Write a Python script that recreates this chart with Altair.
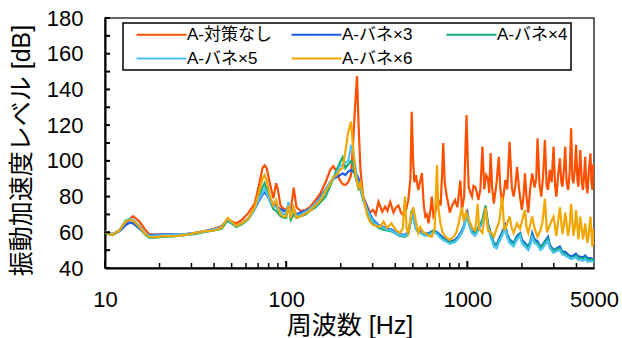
import altair as alt
import pandas as pd

FONT = "Liberation Sans, Noto Sans CJK JP"

series_names = ["A-対策なし", "A-バネ×3", "A-バネ×4", "A-バネ×5", "A-バネ×6"]
series_colors = ["#FF5000", "#1A5CF0", "#12AD78", "#4CC3F7", "#F2A600"]

# shared low-frequency grid (Hz)
freq_low = [10, 11, 12, 13, 13.7, 14.3, 15.5, 16.5, 17.5, 19,
            21, 23, 25, 28, 31, 35, 40, 44, 47.5, 50,
            53, 57, 62, 67, 71, 74, 76, 78, 81, 85,
            88, 90, 93, 97, 100, 103, 106, 110, 114, 120,
            128, 135, 145, 155, 165, 175, 182, 190, 198, 205,
            212, 220, 228, 234, 240, 246, 251]

orange_low = [60.5, 59, 61, 65, 67.5, 69, 66, 62, 59, 58.5,
              59, 59, 59, 59, 59.5, 60.5, 62, 63.5, 67, 66,
              65, 67, 71, 76, 87, 96, 97.5, 96, 88, 79,
              87.5, 84, 75, 73, 73, 74, 72, 85, 74, 72,
              72.5, 74, 78, 82, 88, 95, 97, 94, 89, 87,
              86.5, 88, 92, 110, 130, 147.5, 120]
blue_low = [60, 58.5, 60.5, 64, 65.5, 65, 62, 59.5, 58.5, 58.5,
            58.8, 58.8, 58.8, 59, 59.5, 60.5, 61.5, 63, 67, 65.5,
            63.5, 65, 68, 73, 78, 81, 82.5, 81, 78, 76,
            75, 74, 73, 72, 72, 74, 71, 73, 70, 71,
            72, 73, 76, 80, 84, 88, 90, 91, 92, 93,
            92, 94, 95, 94, 93, 92, 90]
green_low = [59.5, 58.5, 61, 66.5, 67.5, 66.5, 63, 59, 57, 57,
             57.5, 57.5, 58, 58.5, 59, 60, 61, 62, 66.5, 65,
             63, 64.5, 67.5, 73, 80, 85, 87.5, 84, 78, 73,
             72, 71, 69, 68, 68, 76, 67, 70, 68, 69,
             70, 72, 74, 77, 80, 86, 90, 95, 99, 102,
             96, 98, 100, 98, 92, 88, 84]
cyan_low = [60.5, 59, 61, 66, 67.5, 67, 63.5, 60, 58, 58,
            58.5, 58.5, 58.8, 59, 59.5, 60.5, 61.5, 63, 67.5, 65.5,
            63.5, 65, 68, 73, 79, 82, 84, 82, 78, 75,
            74, 73, 72, 70, 71, 77, 70, 73, 69, 70,
            71.5, 73, 76, 79, 84, 88, 90, 93, 97, 98,
            99, 100, 108, 106, 98, 90, 86]
yellow_low = [60, 58.5, 61, 66, 67, 66.5, 63, 59.5, 57.5, 57.3,
              57.8, 57.8, 58, 58.5, 59.5, 60.5, 61, 62.5, 68, 66,
              63.5, 65, 68, 74, 83, 90, 92, 89, 81, 75,
              78, 74, 70, 68.5, 69, 75, 68, 74, 68, 69,
              70.5, 72, 75, 78, 83, 87, 91, 92, 95, 96,
              105, 116, 122, 108, 94, 88, 85]

# high-frequency parts
orange_hi_freq = [257, 266, 279, 290, 302, 312, 323, 339, 352, 362,
                  375, 391, 405, 417, 430, 443, 460, 472, 485, 493,
                  502, 510, 520, 536, 561, 575, 586, 600, 610, 625,
                  636, 650, 670, 691, 712, 727, 736, 750, 770, 785,
                  800, 825, 855, 880, 915, 933, 960, 978, 990, 1005,
                  1017, 1040, 1060, 1080, 1104, 1130, 1150, 1180, 1211, 1240,
                  1270, 1300, 1320, 1344, 1370, 1400, 1450, 1490, 1520, 1555,
                  1590, 1620, 1660, 1710, 1760, 1800, 1840, 1880, 1940, 2000,
                  2040, 2080, 2120, 2170, 2220, 2280, 2350, 2400, 2440, 2500,
                  2560, 2620, 2680, 2740, 2790, 2850, 2920, 2990, 3050, 3100,
                  3170, 3240, 3300, 3350, 3410, 3470, 3530, 3600, 3670, 3740,
                  3800, 3850, 3920, 3980, 4050, 4100, 4150, 4200, 4280, 4350,
                  4410, 4470, 4540, 4600, 4690, 4780, 4840, 4900, 4950, 5000]
orange_hi = [95, 80, 75, 71, 72.5, 70, 77, 71.5, 74.4, 72,
             77, 71, 74, 75, 71, 69.7, 73, 78, 90, 127.5,
             100, 88, 92, 83.7, 93, 75, 68.8, 70, 65, 72,
             80, 69, 72, 78, 75, 95, 110, 88, 80, 76,
             71, 75, 78, 74, 89, 72.5, 80, 110, 125.7, 100,
             85.5, 82, 80, 86, 85.5, 82, 78, 84, 108, 84,
             92, 90, 82, 104.4, 85, 76, 88, 102.3, 85, 76,
             82, 89.3, 84, 110.7, 85, 80, 86, 96.7, 82, 72.5,
             80, 93, 80, 71, 84, 93, 85, 90, 112.6, 87,
             80, 92, 111.7, 86, 83.7, 95, 88, 108, 86, 80,
             92, 101.4, 88, 85.5, 95, 108, 88, 83.7, 93, 118.2,
             90, 87.4, 95, 109, 89, 85.5, 96, 106, 88, 83.7,
             92, 102.3, 86, 81.8, 95, 104.2, 88, 83.7, 98, 92]

yellow_hi_freq = [257, 266, 279, 290, 302, 315, 330, 345, 360, 381,
                  405, 424, 440, 452, 462, 472, 490, 503, 520, 536,
                  550, 570, 586, 610, 636, 660, 672, 680, 690, 710,
                  730, 755, 800, 840, 870, 895, 933, 955, 985, 1010,
                  1039, 1070, 1104, 1125, 1140, 1160, 1211, 1260, 1300, 1350,
                  1400, 1450, 1500, 1555, 1600, 1650, 1710, 1760, 1800, 1880,
                  1950, 2000, 2080, 2120, 2170, 2220, 2280, 2350, 2440, 2530,
                  2600, 2680, 2750, 2850, 2990, 3100, 3170, 3240, 3350, 3410,
                  3470, 3600, 3670, 3740, 3850, 3920, 3980, 4100, 4150, 4200,
                  4350, 4410, 4470, 4600, 4690, 4780, 4900, 4950, 5000]
yellow_hi = [88, 80, 70, 66, 64, 63.5, 63, 66, 62.4, 65,
             61, 59.6, 62, 80, 62, 59.6, 70, 74, 66, 59.6,
             63, 60, 59.6, 58, 57.5, 62, 85, 97.7, 75, 65,
             60, 57.5, 55.7, 57.5, 60, 65, 74, 66, 71.5, 68,
             65, 62, 61, 68, 76, 62, 59.6, 74, 61, 60,
             57.5, 62, 66, 80, 61, 64, 68.8, 62, 59.6, 65,
             62, 66, 72.5, 63, 59.6, 64, 68.8, 62, 57.5, 61,
             66, 78.7, 60, 64, 68.8, 58, 66, 74, 59, 64,
             71, 58, 64, 76, 58, 63, 72.5, 56, 62, 68.8,
             56, 60, 65, 54, 60, 68.8, 52, 62, 53]

bgc_hi_freq = [257, 266, 279, 290, 302, 323, 345, 360, 381, 405,
               424, 452, 472, 485, 493, 505, 520, 536, 561, 586,
               610, 650, 680, 700, 725, 770, 800, 855, 895, 933,
               960, 985, 1000, 1020, 1040, 1060, 1104, 1150, 1211, 1260,
               1300, 1344, 1400, 1450, 1490, 1555, 1620, 1660, 1710, 1800,
               1880, 1960, 2000, 2080, 2170, 2230, 2280, 2350, 2440, 2530,
               2600, 2680, 2790, 2850, 2990, 3100, 3240, 3350, 3470, 3600,
               3740, 3850, 3980, 4100, 4200, 4350, 4470, 4600, 4780, 4900,
               5000]
blue_hi = [86, 80, 74, 70, 67, 64, 63, 62, 61.5, 60,
           59, 58.5, 60, 66, 71.5, 68, 63, 61, 60, 59,
           59.5, 61, 60, 59, 57.5, 55.5, 54.8, 55.7, 58, 61,
           64, 70, 71.5, 66, 63, 61, 59.6, 62, 66, 73.6,
           65, 59.6, 54, 53, 56, 60, 64, 59, 56, 54,
           58, 59.6, 56, 54, 52, 55, 59.6, 56, 55, 52,
           53, 55, 57.5, 53, 50, 51, 52, 49, 49, 47.5,
           46.4, 47, 48, 46.5, 46.4, 46, 47, 45.5, 45.5, 45,
           45]
green_hi = [84, 78, 72, 68, 65.5, 62.5, 61.5, 61, 60.5, 59,
            58, 57.5, 59, 65, 72, 67, 62, 60, 59.5, 58.5,
            59, 61, 59.5, 58, 56.5, 55, 54.5, 55, 57, 60,
            63, 68, 69, 65, 62, 60, 59, 63, 67, 75,
            64, 58.5, 53.5, 52.5, 55, 59, 63, 58, 55, 53.5,
            57, 59, 55, 53, 51.5, 54, 58, 55, 54, 51.5,
            52.5, 54.5, 56.5, 52, 49.5, 50.5, 51, 48.5, 48, 46.5,
            45.5, 46, 47, 45.5, 45.5, 45, 46, 44.5, 45, 44.5,
            44.5]
cyan_hi = [85, 79, 73, 69, 66, 63.5, 62.5, 61.5, 61, 59.5,
           58.5, 58, 59.5, 66, 72.5, 67.5, 62.5, 60.5, 59, 58,
           58.5, 60, 59, 57.5, 56, 54.5, 53.5, 54.5, 57, 60,
           63, 68.5, 69.5, 65, 62, 59.5, 58, 61, 65, 71,
           63, 57.5, 52, 51, 54, 58, 62, 57, 54, 52,
           56, 58, 54, 52, 50, 53, 57, 54, 53, 50,
           51, 53, 55, 51, 48.5, 49.5, 50, 47.5, 47, 46,
           45, 45.5, 46, 44.5, 44.5, 44, 45, 43.5, 44, 43.5,
           43.5]

y_label_values = [40, 60, 80, 100, 120, 140, 160, 180]
y_tick_values = [40, 50, 60, 70, 80, 90, 100, 110, 120, 130, 140, 150, 160, 170, 180]
x_label_values = [10, 100, 1000, 5000]
x_major_ticks = [10, 100, 1000]
x_minor_ticks = [20, 30, 40, 50, 60, 70, 80, 90, 200, 300, 400, 500, 600, 700, 800, 900, 2000, 3000, 4000]

parts = [
    (series_names[0], freq_low + orange_hi_freq, orange_low + orange_hi),
    (series_names[1], freq_low + bgc_hi_freq, blue_low + blue_hi),
    (series_names[2], freq_low + bgc_hi_freq, green_low + green_hi),
    (series_names[3], freq_low + bgc_hi_freq, cyan_low + cyan_hi),
    (series_names[4], freq_low + yellow_hi_freq, yellow_low + yellow_hi),
]
rows = []
for name, fr, vals in parts:
    for f, v in zip(fr, vals):
        rows.append({"series": name, "freq": f, "db": v})
df = pd.DataFrame(rows)

W, H = 489, 250
xscale = alt.Scale(type="log", domain=[10, 5000], nice=False)
yscale = alt.Scale(domain=[40, 180], nice=False)

xaxis = alt.Axis(values=x_label_values, format="d", title="周波数 [Hz]",
                 labelFontSize=22, labelPadding=21, ticks=False, tickSize=0,
                 labelFlush=False, labelOverlap=False, grid=False,
                 domainColor="black", domainWidth=2, labelColor="black",
                 titleFontSize=25, titleFontWeight="normal", titleColor="black",
                 titleY=57, titleBaseline="middle")
yaxis = alt.Axis(values=y_label_values, title="振動加速度レベル [dB]",
                 labelFontSize=22, labelPadding=22, ticks=False, tickSize=0,
                 grid=False, domainColor="black", domainWidth=2, labelColor="black",
                 titleFontSize=25, titleFontWeight="normal", titleColor="black",
                 titleX=-84, titleY=132, titleBaseline="middle", titleAngle=270)

lines = alt.Chart(df).mark_line(strokeWidth=2.2, clip=True).encode(
    x=alt.X("freq:Q", scale=xscale, axis=xaxis),
    y=alt.Y("db:Q", scale=yscale, axis=yaxis),
    color=alt.Color("series:N",
                    scale=alt.Scale(domain=series_names, range=series_colors),
                    legend=alt.Legend(title=None, orient="none", legendX=18, legendY=5,
                                      columns=3, direction="horizontal", gridAlign="all",
                                      symbolType="M-5,0H5", symbolSize=100,
                                      symbolStrokeWidth=2, symbolOffset=27,
                                      labelFontSize=17, labelOffset=17,
                                      columnPadding=9, rowPadding=6,
                                      padding=3, strokeColor="black", fillColor="white",
                                      labelColor="black")),
    order=alt.Order("freq:Q"),
)

ytick_df = pd.DataFrame({"db": y_tick_values})
yticks = alt.Chart(ytick_df).mark_rule(color="black", strokeWidth=2).encode(
    y=alt.Y("db:Q", scale=yscale, axis=yaxis), x=alt.value(0), x2=alt.value(5))

xmaj_df = pd.DataFrame({"freq": x_major_ticks})
xmaj = alt.Chart(xmaj_df).mark_rule(color="black", strokeWidth=2).encode(
    x=alt.X("freq:Q", scale=xscale, axis=xaxis), y=alt.value(H), y2=alt.value(H - 7))
xmin_df = pd.DataFrame({"freq": x_minor_ticks})
xmin = alt.Chart(xmin_df).mark_rule(color="black", strokeWidth=1.5).encode(
    x=alt.X("freq:Q", scale=xscale, axis=xaxis), y=alt.value(H), y2=alt.value(H - 5))

chart = alt.layer(lines, yticks, xmaj, xmin).properties(
    width=W, height=H,
    autosize=alt.AutoSizeParams(type="none"),
    padding={"left": 105, "top": 18, "right": 28, "bottom": 70},
).configure(font=FONT).configure_view(
    stroke="#333333", strokeWidth=1.5
).configure_legend(strokeWidth=1.5, labelFont=FONT)

chart.save("out.html", embed_options={"renderer": "svg", "actions": False})
